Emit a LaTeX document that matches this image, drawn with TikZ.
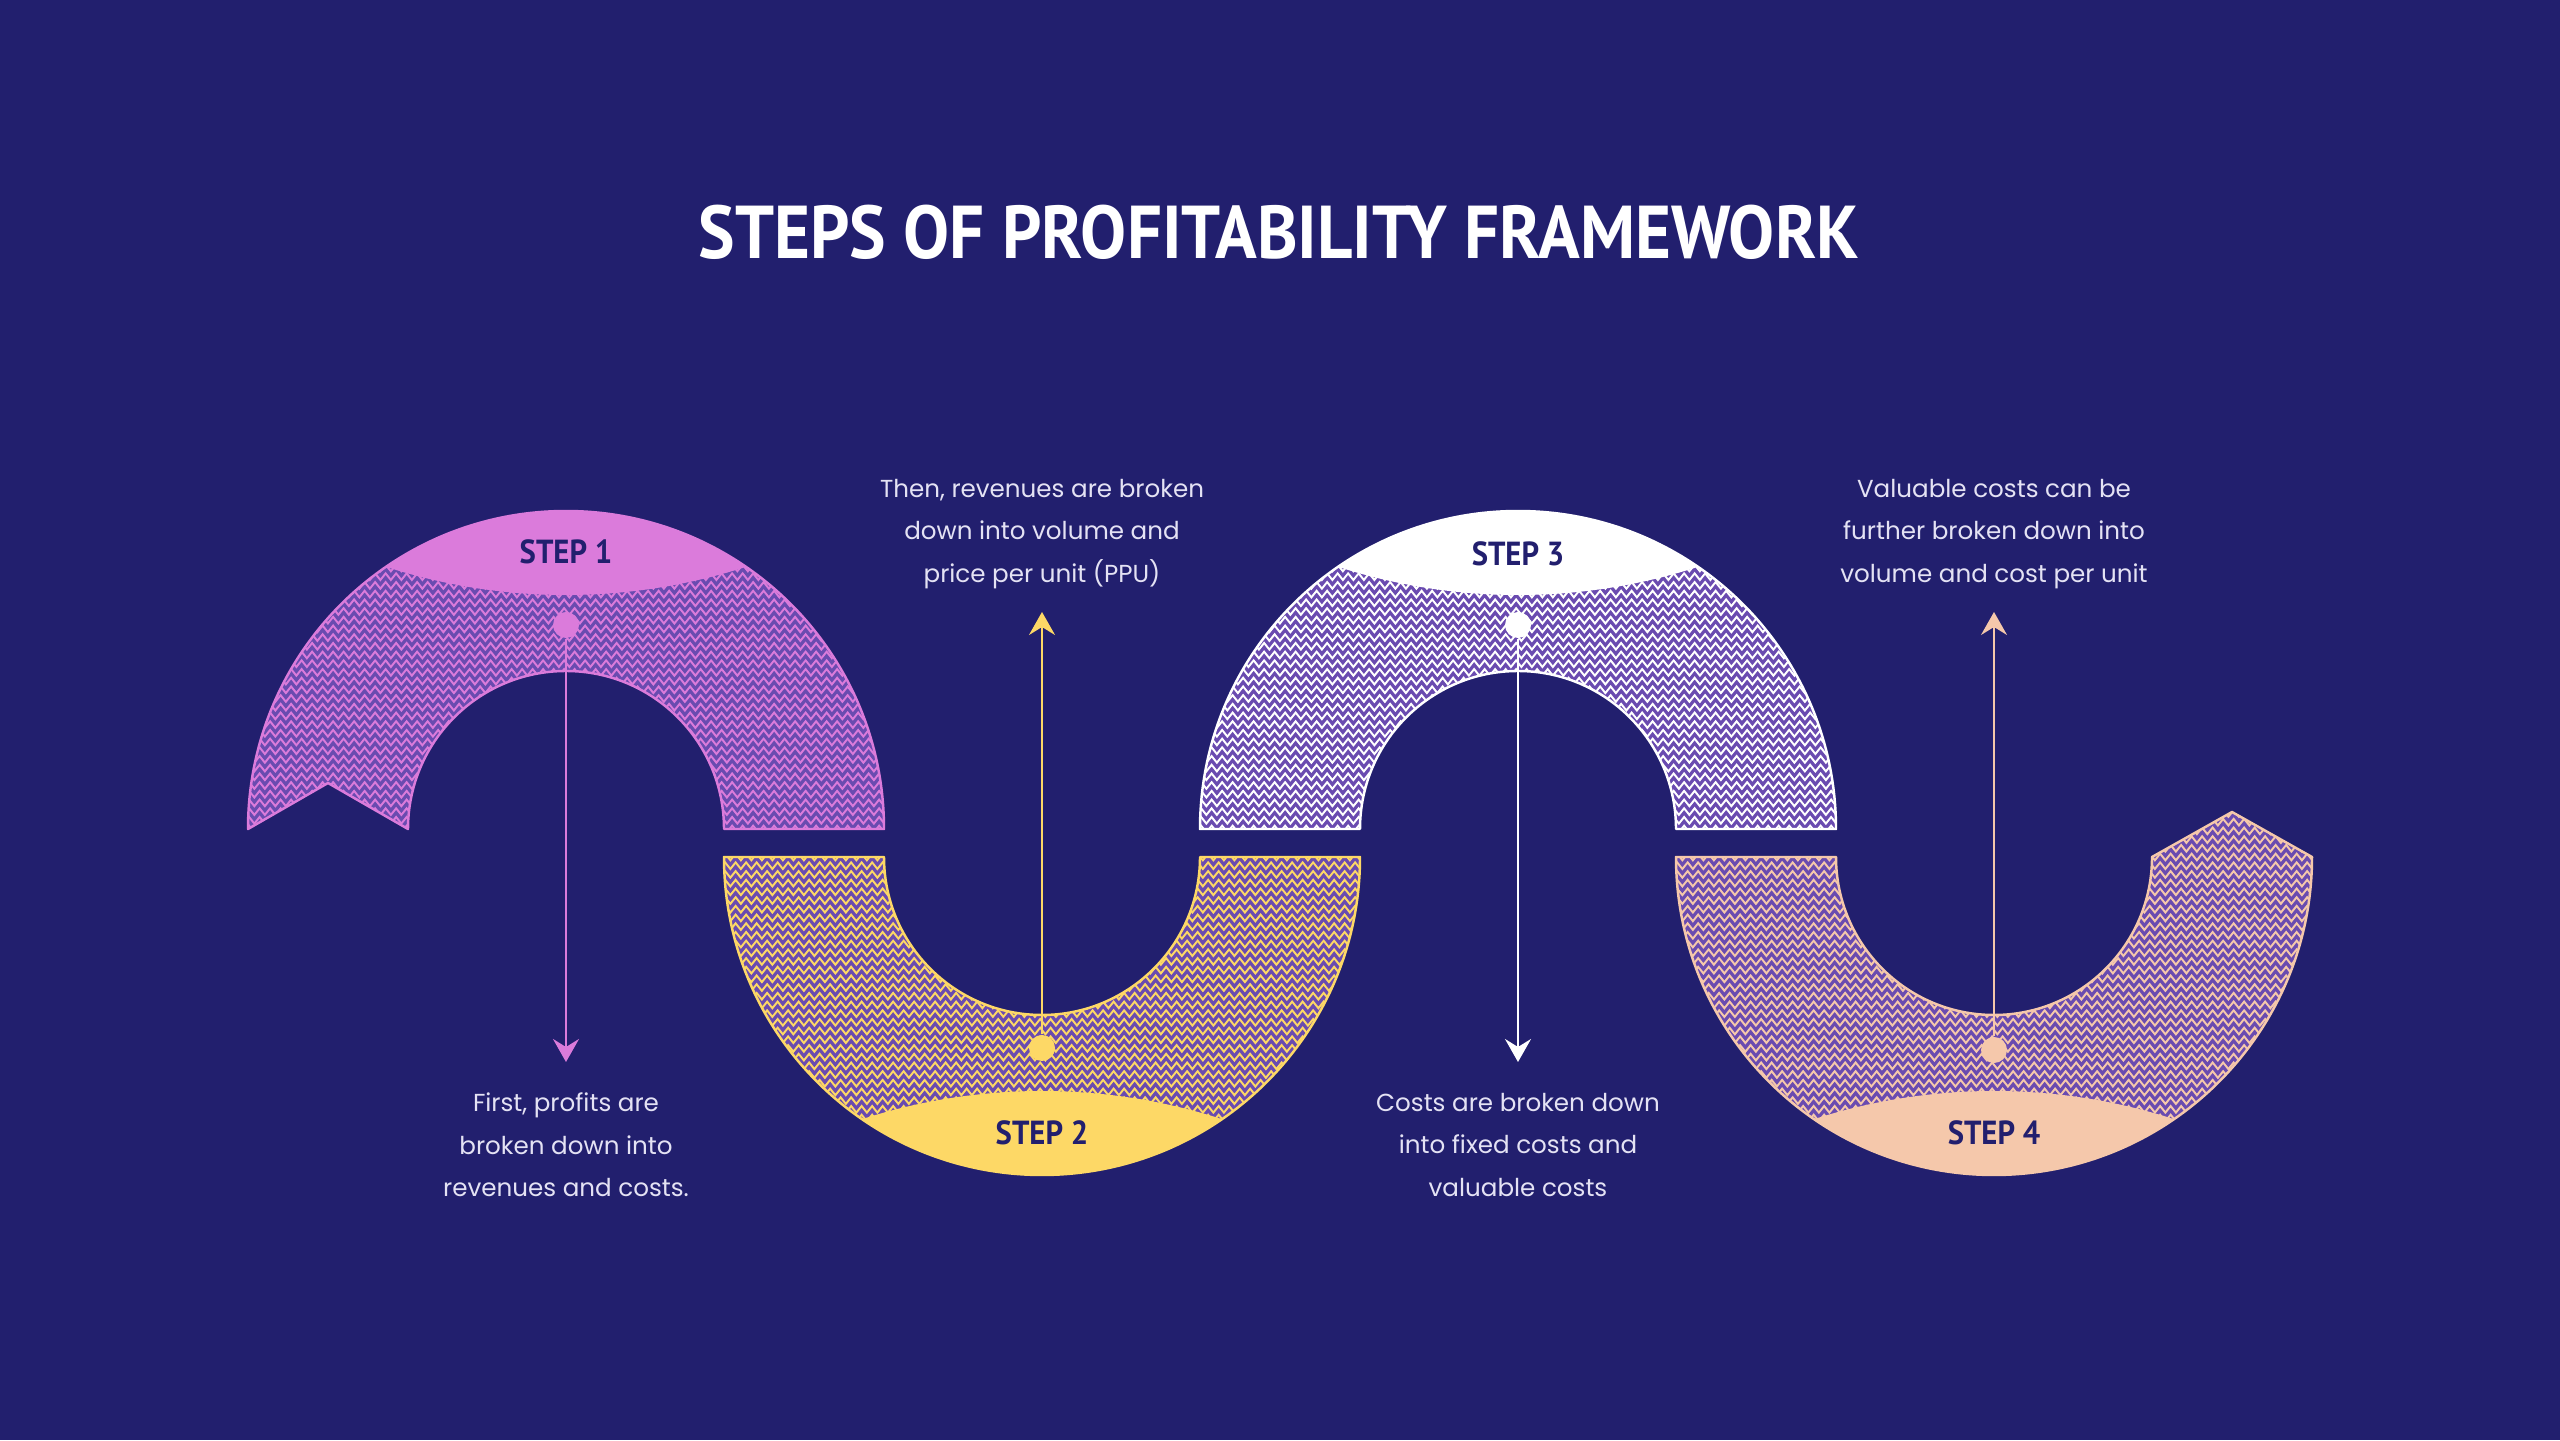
\documentclass[tikz,border=0pt]{standalone}
\usepackage{fontspec}
\setmainfont{Poppins}
\newfontfamily\headfont[FakeStretch=0.92]{PT Sans}
\usetikzlibrary{arrows.meta, calc, decorations.pathmorphing}

\definecolor{navy}{HTML}{221F6E}
\definecolor{bandpurple}{HTML}{6A4BB0}
\definecolor{pinkstep}{HTML}{DB7BDB}
\definecolor{yellowstep}{HTML}{FDD866}
\definecolor{whitestep}{HTML}{FFFFFF}
\definecolor{peachstep}{HTML}{F5C8AB}
\definecolor{notetext}{HTML}{E4E2F4}

% zigzag rows over a band, #2 = +1 (upper) or -1 (lower)
\newcommand{\zigrows}[3]{%
  \foreach \k in {-6,...,38}
    \draw[zig, draw=#3] ($(#1)+(-3.3,#2*\k*0.087)$) -- ++(6.6,0);}

\begin{document}
\begin{tikzpicture}[
  zig/.style={decorate, decoration={zigzag, segment length=1.05mm, amplitude=0.33mm},
              line width=0.55pt},
  bandline/.style={line width=0.7pt, line join=round},
  upper band/.style={insert path={($(#1)+(-3.18,0)$)
      arc[start angle=180, end angle=0, radius=3.18] -- ($(#1)+(1.58,0)$)
      arc[start angle=0, end angle=180, radius=1.58]}},
  lower band/.style={insert path={($(#1)+(-3.18,0)$)
      arc[start angle=180, end angle=360, radius=3.18]}},
  dot/.style={circle, inner sep=0pt, minimum size=0.26cm},
  link/.style={-{Stealth[length=2.3mm, width=2.6mm, inset=0.8mm]}, line width=0.6pt},
  steplabel/.style={font=\headfont\bfseries\fontsize{9.5}{11}\selectfont, text=navy},
  note/.style={font=\fontsize{7}{12.1}\selectfont, text=notetext, align=center},
  heading/.style={font=\headfont\bfseries\fontsize{21.3}{25}\selectfont, text=white},
]

\fill[navy] (0,0) rectangle (25.6,14.4);

\node[heading] (title) at (12.79,12.08) {STEPS OF PROFITABILITY FRAMEWORK};

\coordinate (c1) at (5.66,6.11);
\coordinate (c2) at (10.42,5.83);
\coordinate (c3) at (15.18,6.11);
\coordinate (c4) at (19.94,5.83);

% step 1, with the notched tail
\begin{scope}
  \clip[upper band=c1] -- ++(-0.8,0.46) -- cycle;
  \fill[bandpurple] (c1) circle (3.3);
  \zigrows{c1}{1}{pinkstep}
  \begin{scope}
    \clip (c1) circle (3.18);
    \fill[pinkstep] ($(c1)+(0,8.2)$) circle (5.86);
  \end{scope}
\end{scope}
\draw[bandline, pinkstep] [upper band=c1] -- ++(-0.8,0.46) -- cycle;

% step 2
\begin{scope}
  \clip[lower band=c2] -- ($(c2)+(1.58,0)$)
    arc[start angle=360, end angle=180, radius=1.58] -- cycle;
  \fill[bandpurple] (c2) circle (3.3);
  \zigrows{c2}{-1}{yellowstep}
  \begin{scope}
    \clip (c2) circle (3.18);
    \fill[yellowstep] ($(c2)+(0,-8.2)$) circle (5.86);
  \end{scope}
\end{scope}
\draw[bandline, yellowstep] [lower band=c2] -- ($(c2)+(1.58,0)$)
  arc[start angle=360, end angle=180, radius=1.58] -- cycle;

% step 3
\begin{scope}
  \clip[upper band=c3] -- cycle;
  \fill[bandpurple] (c3) circle (3.3);
  \zigrows{c3}{1}{whitestep}
  \begin{scope}
    \clip (c3) circle (3.18);
    \fill[whitestep] ($(c3)+(0,8.2)$) circle (5.86);
  \end{scope}
\end{scope}
\draw[bandline, whitestep] [upper band=c3] -- cycle;

% step 4, with the pointed head
\begin{scope}
  \clip[lower band=c4] -- ($(c4)+(2.38,0.45)$) -- ($(c4)+(1.58,0)$)
    arc[start angle=360, end angle=180, radius=1.58] -- cycle;
  \fill[bandpurple] (c4) circle (3.3);
  \zigrows{c4}{-1}{peachstep}
  \begin{scope}
    \clip (c4) circle (3.18);
    \fill[peachstep] ($(c4)+(0,-8.2)$) circle (5.86);
  \end{scope}
\end{scope}
\draw[bandline, peachstep] [lower band=c4] -- ($(c4)+(2.38,0.45)$) -- ($(c4)+(1.58,0)$)
  arc[start angle=360, end angle=180, radius=1.58] -- cycle;

% step labels
\node[steplabel] (s1) at (5.66,8.88) {STEP 1};
\node[steplabel] (s2) at (10.42,3.07) {STEP 2};
\node[steplabel] (s3) at (15.18,8.86) {STEP 3};
\node[steplabel] (s4) at (19.94,3.07) {STEP 4};

% dots and pointers
\node[dot, fill=pinkstep] (d1) at (5.66,8.15) {};
\node[dot, fill=yellowstep] (d2) at (10.42,3.92) {};
\node[dot, fill=whitestep] (d3) at (15.18,8.15) {};
\node[dot, fill=peachstep] (d4) at (19.94,3.90) {};

\coordinate (t1) at (5.66,3.78);
\coordinate (t2) at (10.42,8.28);
\coordinate (t3) at (15.18,3.78);
\coordinate (t4) at (19.94,8.28);

\draw[link, pinkstep] (d1) -- (t1);
\draw[link, yellowstep] (d2) -- (t2);
\draw[link, whitestep] (d3) -- (t3);
\draw[link, peachstep] (d4) -- (t4);

% notes
\node[note] (n1) at (5.66,2.95) {First, profits are\\broken down into\\revenues and costs.};
\node[note] (n2) at (10.42,9.06) {Then, revenues are broken\\down into volume and\\price per unit (PPU)};
\node[note] (n3) at (15.18,2.95) {Costs are broken down\\into fixed costs and\\valuable costs};
\node[note] (n4) at (19.94,9.06) {Valuable costs can be\\further broken down into\\volume and cost per unit};

\end{tikzpicture}
\end{document}
